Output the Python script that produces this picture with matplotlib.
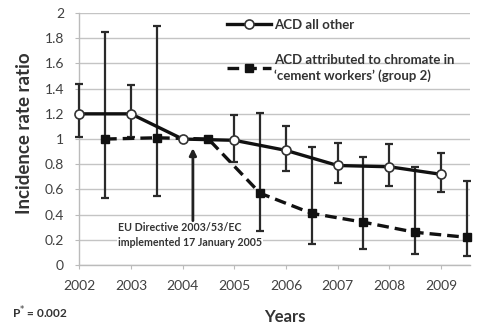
import matplotlib.pyplot as plt
import numpy as np

plt.rcParams['font.family'] = ['Lato', 'DejaVu Sans']

# ACD all other (open circles, solid line)
years = [2002, 2003, 2004, 2005, 2006, 2007, 2008, 2009]
other = [1.20, 1.20, 1.00, 0.99, 0.91, 0.79, 0.78, 0.72]
other_lo = [1.02, 1.02, 1.00, 0.82, 0.75, 0.65, 0.63, 0.58]
other_hi = [1.44, 1.43, 1.00, 1.19, 1.10, 0.97, 0.96, 0.89]

# ACD attributed to chromate in cement workers (squares, dashed), offset half a year
years_cr = [2002.5, 2003.5, 2004.5, 2005.5, 2006.5, 2007.5, 2008.5, 2009.5]
chrom = [1.00, 1.01, 1.00, 0.57, 0.41, 0.34, 0.26, 0.22]
chrom_lo = [0.53, 0.55, 1.00, 0.27, 0.17, 0.13, 0.09, 0.07]
chrom_hi = [1.85, 1.90, 1.00, 1.21, 0.94, 0.86, 0.78, 0.67]

yticks = [0, 0.2, 0.4, 0.6, 0.8, 1, 1.2, 1.4, 1.6, 1.8, 2]
ytick_labels = ['0', '0.2', '0.4', '0.6', '0.8', '1', '1.2', '1.4', '1.6', '1.8', '2']

fig = plt.figure(figsize=(4.8, 3.26), dpi=100)
ax = fig.add_axes([0.165, 0.187, 0.814, 0.773])

other = np.array(other)
chrom = np.array(chrom)
ecol = '#2a2a2a'
for xs, ys, lo, hi in [(years, other, other_lo, other_hi), (years_cr, chrom, chrom_lo, chrom_hi)]:
    eb = ax.errorbar(xs, ys, yerr=[ys - np.array(lo), np.array(hi) - ys],
                     fmt='none', ecolor=ecol, elinewidth=1.6, capsize=3, capthick=1.6, zorder=3)
    for art in eb.lines[1] + eb.lines[2]:
        art.set_clip_on(False)

ax.plot(years_cr, chrom, color='#111111', lw=2.4, ls=(0, (3.5, 1.8)), marker='s',
        markersize=6, markerfacecolor='#111111', markeredgecolor='#111111', clip_on=False,
        label='ACD attributed to chromate in\n\u2018cement workers\u2019 (group 2)', zorder=4)
ax.plot(years, other, color='#111111', lw=2.4, marker='o', markersize=6.5,
        markerfacecolor='white', markeredgecolor='#333333', markeredgewidth=1.2,
        clip_on=False, label='ACD all other', zorder=5)

ax.set_xlim(2002, 2009.56)
ax.set_ylim(0, 2)
ax.set_yticks(yticks)
ax.set_yticklabels(ytick_labels)
ax.set_xticks(years)
ax.set_xticklabels([str(y) for y in years])
ax.grid(axis='y', color='#c4c4c4', lw=1.0)
ax.set_axisbelow(True)
for s in ['top', 'right']:
    ax.spines[s].set_visible(False)
for s in ['left', 'bottom']:
    ax.spines[s].set_color('#bbbbbb')
    ax.spines[s].set_linewidth(1.0)
ax.tick_params(axis='x', colors='#bbbbbb', length=3, labelcolor='#404040', labelsize=10, pad=8)
ax.tick_params(axis='y', colors='#bbbbbb', length=3, labelcolor='#404040', labelsize=10, pad=8)

# annotation for the directive
ax.annotate('', xy=(2004.2, 0.95), xytext=(2004.2, 0.33),
            arrowprops=dict(arrowstyle='-|>', color='#222222', lw=2.0, mutation_scale=10))
ax.text(2002.75, 0.24, 'EU Directive 2003/53/EC\nimplemented 17 January 2005',
        fontsize=7.7, fontweight='bold', color='#333333', va='center', ha='left',
        linespacing=1.45, zorder=2, bbox=dict(facecolor='white', edgecolor='none', pad=1))

handles, labels = ax.get_legend_handles_labels()
leg = fig.legend(handles[::-1], labels[::-1], loc='upper left', bbox_to_anchor=(0.472, 0.943),
                 frameon=False, fontsize=9.5, handlelength=3.4, handletextpad=0.2,
                 labelspacing=1.75, borderpad=0, borderaxespad=0)
for t in leg.get_texts():
    t.set_fontweight('bold')
    t.set_color('#333333')
    t.set_linespacing(1.35)

fig.text(0.052, 0.59, 'Incidence rate ratio', rotation=90, fontsize=13.5, fontweight='bold',
         color='#333333', ha='center', va='center')
fig.text(0.594, 0.028, 'Years', fontsize=12, fontweight='bold', color='#333333',
         ha='center', va='center')
fig.text(0.025, 0.04, r'P$^{*}$ = 0.002', fontsize=8.5, fontweight='bold', color='#333333',
         ha='left', va='center')

fig.savefig('out.png', dpi=100)
